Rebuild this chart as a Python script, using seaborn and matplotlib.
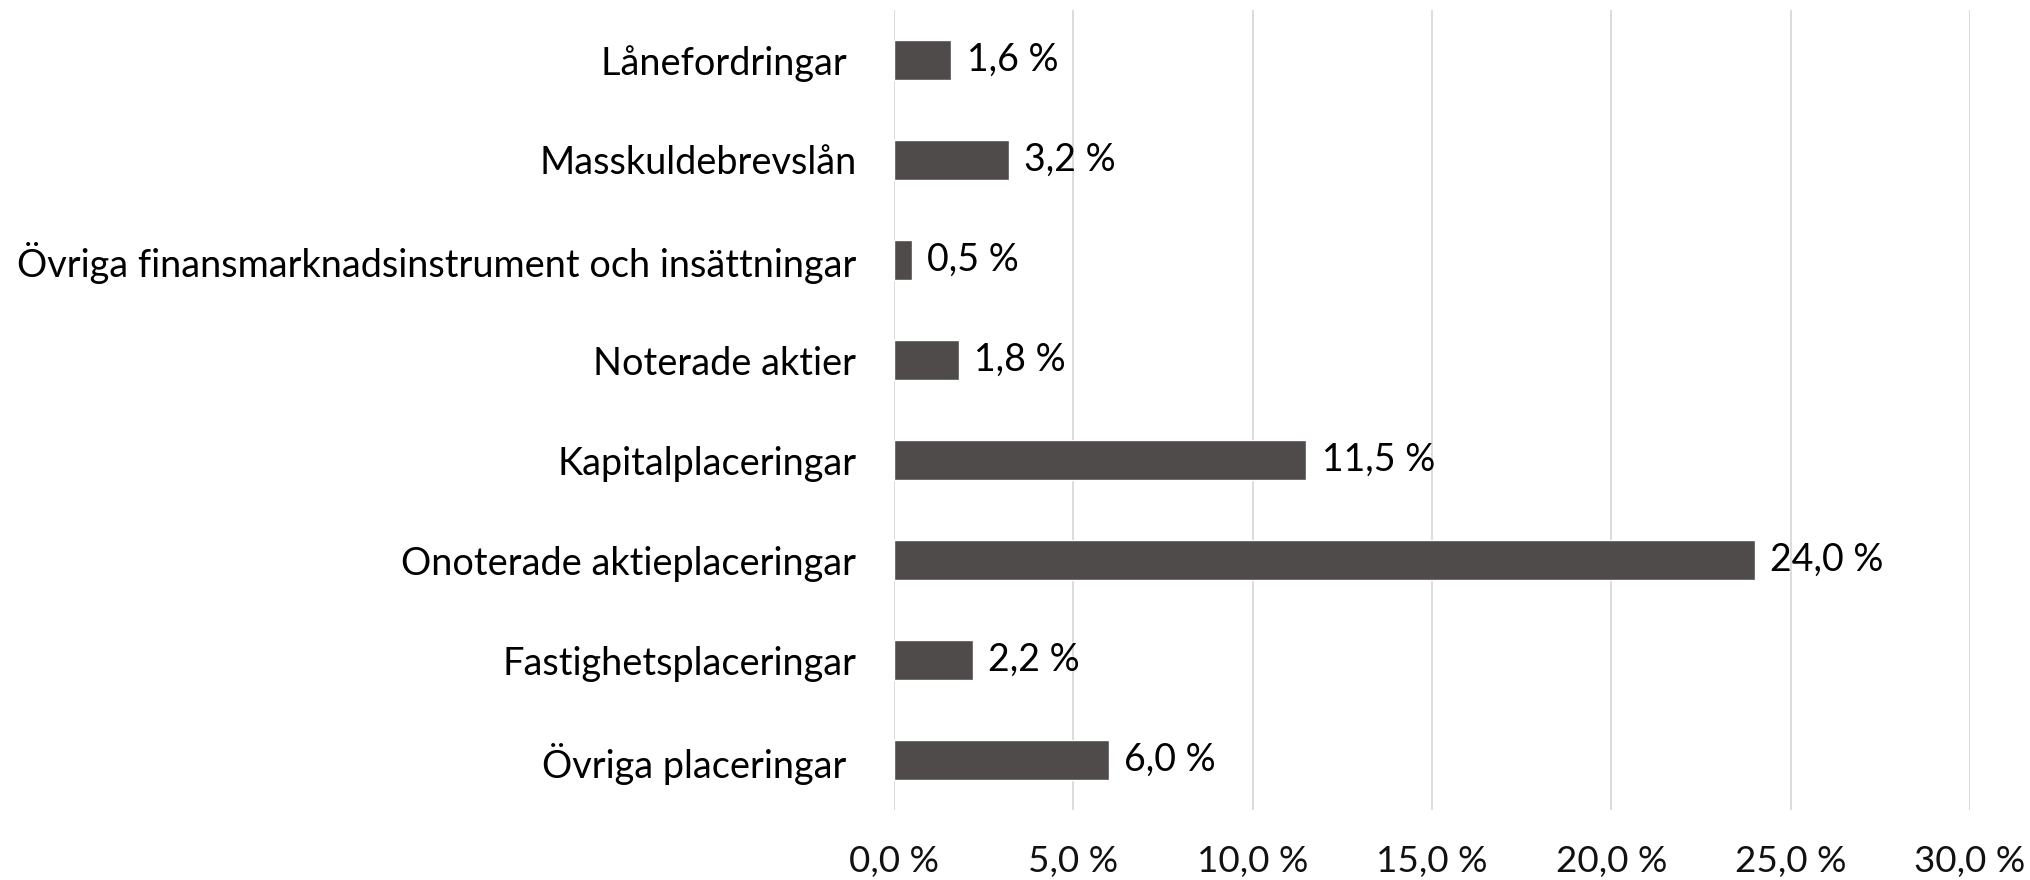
import matplotlib
matplotlib.use("Agg")
import matplotlib.pyplot as plt
import seaborn as sns
import pandas as pd

categories = [
    "Lånefordringar ",
    "Masskuldebrevslån",
    "Övriga finansmarknadsinstrument och insättningar",
    "Noterade aktier",
    "Kapitalplaceringar",
    "Onoterade aktieplaceringar",
    "Fastighetsplaceringar",
    "Övriga placeringar ",
]
values = [1.6, 3.2, 0.5, 1.8, 11.5, 24.0, 2.2, 6.0]
xticks = [0, 5, 10, 15, 20, 25, 30]

def fmt(v):
    return f"{v:.1f}".replace(".", ",") + " %"

sns.set_theme(style="white")
plt.rcParams["font.family"] = ["Lato", "DejaVu Sans"]

fig = plt.figure(figsize=(20.31, 8.80), dpi=100)
ax = fig.add_axes([894 / 2031, 1 - 810 / 880, (1970 - 894) / 2031, 800 / 880])

df = pd.DataFrame({"cat": categories, "val": values})
sns.barplot(data=df, x="val", y="cat", orient="h", color="#4F4B4A",
            saturation=1, width=0.4, ax=ax)

ax.set_xlim(0, 30)
ax.set_ylim(7.5, -0.5)
ax.set_xticks(xticks)
ax.set_xticklabels([fmt(t) for t in xticks])
ax.set_xlabel("")
ax.set_ylabel("")
for s in ax.spines.values():
    s.set_visible(False)
ax.grid(axis="x", color="#D9D9D9", linewidth=1.3)
ax.grid(axis="y", visible=False)
ax.set_axisbelow(True)
ax.tick_params(axis="y", length=0, pad=27, labelsize=27.3, labelcolor="black")
ax.tick_params(axis="x", length=0, pad=25, labelsize=26.5, labelcolor="#111111")

ax.bar_label(ax.containers[0], labels=[fmt(v) for v in values],
             padding=11, fontsize=27, color="black")

fig.savefig("out.png", dpi=100)
